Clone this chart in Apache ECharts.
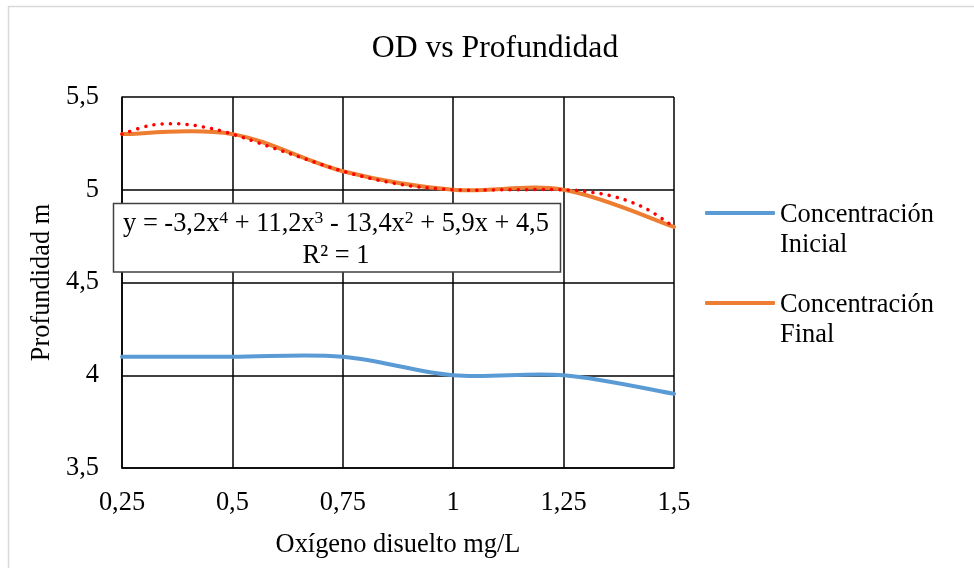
<!DOCTYPE html>
<html>
<head>
<meta charset="utf-8">
<script src="https://cdn.jsdelivr.net/npm/echarts@6/dist/echarts.min.js"></script>
<style>
  html, body { margin: 0; padding: 0; background: #fff; }
  #chart { width: 974px; height: 568px; }
</style>
</head>
<body>
<div id="chart"></div>
<script>
// ---- data ----
const xValues = [0.25, 0.5, 0.75, 1, 1.25, 1.5];
const inicial = [4.1, 4.1, 4.1, 4.0, 4.0, 3.9];
const finalVals = [5.3, 5.3, 5.1, 5.0, 5.0, 4.8];
// dotted red trendline, read at several x positions from the picture
const trendX = [0.25, 0.3125, 0.375, 0.4375, 0.5, 0.625, 0.75, 0.875, 1, 1.125, 1.25, 1.3125, 1.375, 1.4375, 1.5];
const trendY = [5.30, 5.346, 5.356, 5.337, 5.30, 5.199, 5.10, 5.031, 5.00, 5.00, 5.00, 4.987, 4.956, 4.897, 4.80];
const seriesNames = ['Concentración Inicial', 'Concentración Final'];
const xTicks = { min: 0.25, max: 1.5, interval: 0.25 };
const yTicks = { min: 3.5, max: 5.5, interval: 0.5 };
const titleText = 'OD vs Profundidad';
const xName = 'Oxígeno disuelto mg/L';
const yName = 'Profundidad m';

const FONT = '"Liberation Serif", "Times New Roman", serif';
const FS = 26.4;
const pair = (xs, ys) => xs.map((x, i) => [x, ys[i]]);
const comma = v => String(v).replace('.', ',');

// Excel-style smoothed line: cubic Bezier through the points, tangents (P[i+1]-P[i-1])/6,
// computed in pixel space from the axis scales (api.coord).
function smoothPath(pts) {
  const n = pts.length;
  let d = 'M' + pts[0][0] + ' ' + pts[0][1];
  for (let i = 0; i < n - 1; i++) {
    const p0 = pts[Math.max(i - 1, 0)], p1 = pts[i], p2 = pts[i + 1], p3 = pts[Math.min(i + 2, n - 1)];
    const c1x = p1[0] + (p2[0] - p0[0]) / 6, c1y = p1[1] + (p2[1] - p0[1]) / 6;
    const c2x = p2[0] - (p3[0] - p1[0]) / 6, c2y = p2[1] - (p3[1] - p1[1]) / 6;
    d += ' C' + c1x + ' ' + c1y + ' ' + c2x + ' ' + c2y + ' ' + p2[0] + ' ' + p2[1];
  }
  return d;
}
function curveSeries(name, data, style, z) {
  return {
    name: name, type: 'custom', data: data, z: z, clip: false, silent: true,
    encode: { x: 0, y: 1 },
    itemStyle: { color: style.stroke },
    renderItem: function (params, api) {
      if (params.dataIndex !== 0) return null;
      const px = data.map(p => api.coord(p));
      return {
        type: 'path',
        shape: { pathData: smoothPath(px) },
        style: Object.assign({ fill: 'none' }, style)
      };
    }
  };
}

const chart = echarts.init(document.getElementById('chart'), null, { renderer: 'canvas' });
chart.setOption({
  backgroundColor: '#fff',
  animation: false,
  textStyle: { fontFamily: FONT },
  grid: { left: 122, right: 300, top: 97, bottom: 100, containLabel: false },
  xAxis: {
    type: 'value', min: xTicks.min, max: xTicks.max, interval: xTicks.interval,
    name: xName, nameLocation: 'middle', nameGap: 64,
    nameTextStyle: { fontFamily: FONT, fontSize: FS, color: '#000' },
    axisLine: { show: true, lineStyle: { color: '#000', width: 1.5 } },
    axisTick: { show: false },
    axisLabel: { fontFamily: FONT, fontSize: FS, color: '#000', margin: 22, formatter: comma },
    splitLine: { show: true, lineStyle: { color: '#000', width: 1.5 } }
  },
  yAxis: {
    type: 'value', min: yTicks.min, max: yTicks.max, interval: yTicks.interval,
    name: yName, nameLocation: 'middle', nameGap: 63, nameRotate: 90,
    nameTextStyle: { fontFamily: FONT, fontSize: FS, color: '#000' },
    axisLine: { show: true, lineStyle: { color: '#000', width: 1.5 } },
    axisTick: { show: false },
    axisLabel: { fontFamily: FONT, fontSize: FS, color: '#000', margin: 23, formatter: comma },
    splitLine: { show: true, lineStyle: { color: '#000', width: 1.5 } }
  },
  legend: {
    data: seriesNames,
    orient: 'vertical',
    left: 705, top: 170, padding: 0,
    itemWidth: 70, itemHeight: 4, itemGap: 2,
    icon: 'roundRect',
    formatter: n => '{e| }\n{t|' + n.replace(' ', '}\n{t|') + '}',
    textStyle: {
      fontFamily: FONT, fontSize: FS, color: '#000',
      rich: {
        e: { fontFamily: FONT, fontSize: FS, lineHeight: 34 },
        t: { fontFamily: FONT, fontSize: FS, color: '#000', lineHeight: 30 }
      }
    }
  },
  series: [
    curveSeries(seriesNames[0], pair(xValues, inicial), { stroke: '#5B9BD5', lineWidth: 4, lineCap: 'round', lineJoin: 'round' }, 2),
    curveSeries(seriesNames[1], pair(xValues, finalVals), { stroke: '#ED7D31', lineWidth: 4, lineCap: 'round', lineJoin: 'round' }, 3),
    curveSeries('trend', pair(trendX, trendY), { stroke: '#FF0000', lineWidth: 3.5, lineCap: 'round', lineDash: [0.1, 8.2] }, 4)
  ],
  graphic: [
    { type: 'rect', z: -10, shape: { x: 8.5, y: 6.5, width: 1000, height: 700 }, style: { fill: null, stroke: '#d9d9d9', lineWidth: 1.5 } },
    { type: 'text', z: 10, x: 495, y: 49, style: { text: titleText, font: '31.7px ' + FONT, fill: '#000', textAlign: 'center', textVerticalAlign: 'middle' } },
    { type: 'rect', z: 20, shape: { x: 113.5, y: 203.5, width: 447, height: 68.5 }, style: { fill: '#fff', stroke: '#404040', lineWidth: 1.5 } },
    { type: 'text', z: 21, x: 336, y: 224, style: {
        text: '{m|y = -3,2x}{s|4}{m| + 11,2x}{s|3}{m| - 13,4x}{s|2}{m| + 5,9x + 4,5}',
        textAlign: 'center', textVerticalAlign: 'middle',
        rich: {
          m: { fontFamily: FONT, fontSize: FS, color: '#000', lineHeight: 30, verticalAlign: 'middle' },
          s: { fontFamily: FONT, fontSize: 17.6, color: '#000', lineHeight: 19, verticalAlign: 'top' }
        }
    } },
    { type: 'text', z: 21, x: 336, y: 256, style: { text: 'R² = 1', font: FS + 'px ' + FONT, fill: '#000', textAlign: 'center', textVerticalAlign: 'middle' } }
  ]
});
</script>
</body>
</html>
